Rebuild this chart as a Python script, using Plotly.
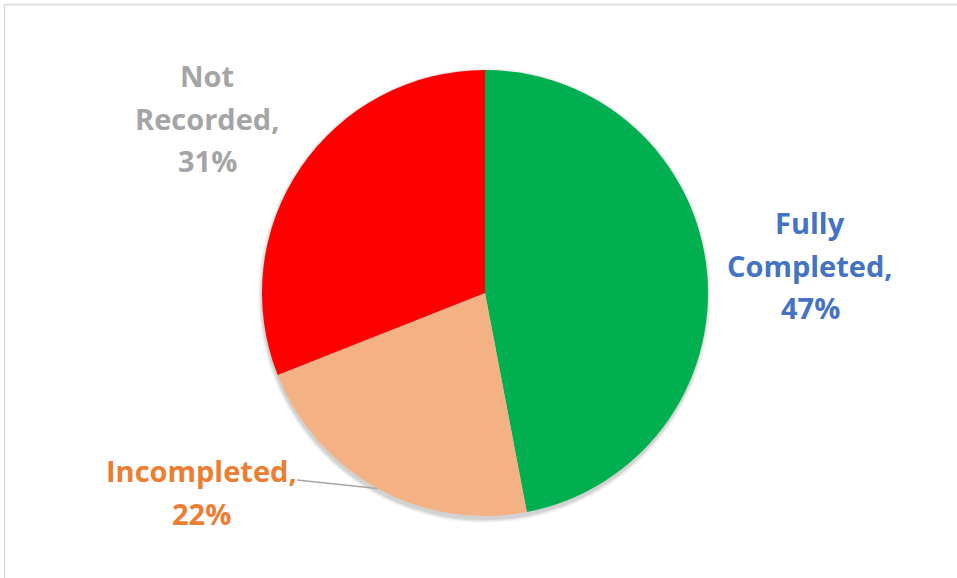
import math
import plotly.graph_objects as go

# Completion status breakdown
categories = ["Fully Completed", "Incompleted", "Not Recorded"]
shares = [47, 22, 31]
slice_colors = ["#00B050", "#F4B183", "#FF0000"]
label_colors = ["#4472C4", "#ED7D31", "#A5A5A5"]

W, H = 957, 578
CX, CY, R = 485, 293, 223  # pie centre and radius in pixels

# label blocks: centre x, y of first line (pixels)
label_pos = {
    "Fully Completed": (810, 222, ["Fully", "Completed,"]),
    "Incompleted": (201, 470, ["Incompleted,"]),
    "Not Recorded": (207, 75, ["Not", "Recorded,"]),
}
LINE_GAP = 43
FONT = "Open Sans"
FSIZE = 29


def px(x):
    return x / W


def py(y):
    return 1 - y / H


fig = go.Figure()
fig.add_trace(go.Pie(
    labels=categories,
    values=shares,
    marker=dict(colors=slice_colors, line=dict(width=0)),
    sort=False,
    direction="clockwise",
    rotation=0,
    textinfo="none",
    hoverinfo="label+percent",
    showlegend=False,
    domain=dict(x=[px(CX - R), px(CX + R)], y=[py(CY + R), py(CY - R)]),
))

shapes = []
# soft drop shadow under the pie, offset downward
for i, a in enumerate([0.03, 0.04, 0.05, 0.06]):
    grow = 4 - i
    shapes.append(dict(
        type="circle", xref="paper", yref="paper", layer="below",
        x0=px(CX - R - grow), x1=px(CX + R + grow - 1),
        y0=py(CY + R + grow + 3), y1=py(CY - R - grow + 2),
        fillcolor=f"rgba(0,0,0,{a})", line=dict(width=0),
    ))

# chart area outline
shapes.append(dict(
    type="rect", xref="paper", yref="paper", layer="above",
    x0=px(4.5), x1=1.05, y0=-0.05, y1=py(4.5),
    line=dict(color="#D9D9D9", width=1.5), fillcolor="rgba(0,0,0,0)",
))

annotations = []
total = sum(shares)
cum = 0
for cat, val, col in zip(categories, shares, label_colors):
    mid = (cum + val / 2) / total * 2 * math.pi
    cum += val
    lx, ly, lines = label_pos[cat]
    lines = lines + [f"{round(val / total * 100)}%"]
    for k, t in enumerate(lines):
        annotations.append(dict(
            xref="paper", yref="paper", x=px(lx), y=py(ly + k * LINE_GAP),
            text=f"<b>{t}</b>", showarrow=False, xanchor="center", yanchor="middle",
            font=dict(family=FONT, size=FSIZE, color=col),
        ))
    if cat == "Incompleted":
        ex = CX + R * math.sin(mid)
        ey = CY - R * math.cos(mid)
        shapes.append(dict(
            type="line", xref="paper", yref="paper",
            x0=px(297), y0=py(480), x1=px(ex), y1=py(ey),
            line=dict(color="#A6A6A6", width=1.5),
        ))

fig.update_layout(
    width=W, height=H,
    margin=dict(l=0, r=0, t=0, b=0),
    paper_bgcolor="white",
    plot_bgcolor="white",
    shapes=shapes,
    annotations=annotations,
)

fig.write_html("out.html")
